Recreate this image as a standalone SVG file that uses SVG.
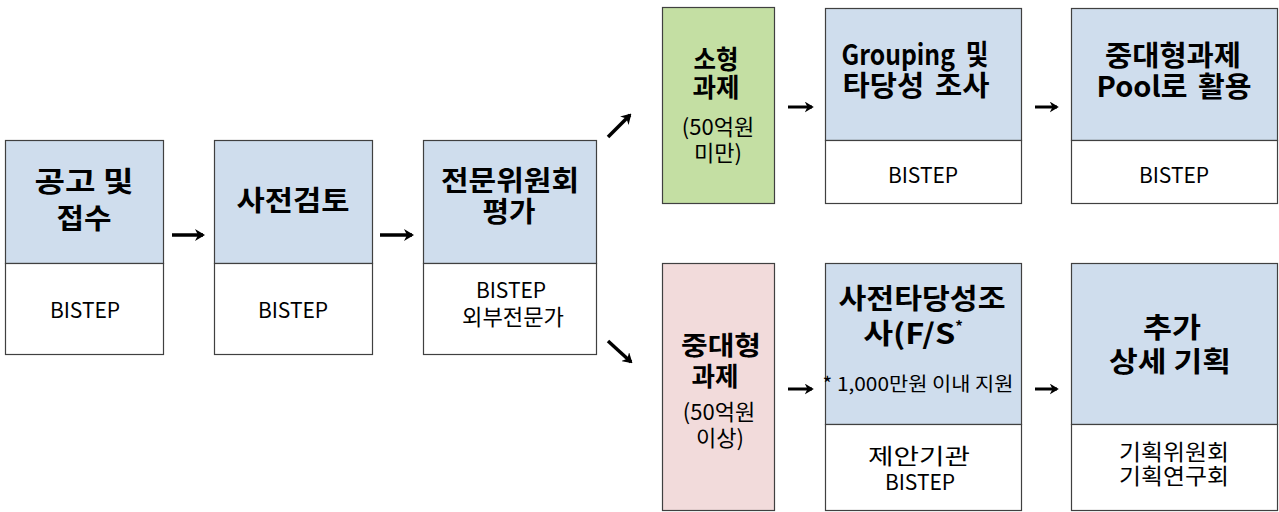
<svg xmlns="http://www.w3.org/2000/svg" width="1279" height="512" viewBox="0 0 1279 512">
<style>
.box{stroke:#404040;stroke-width:1.2}
.hd{fill:#cfdded}
.wt{fill:#ffffff}
.gr{fill:#c4dfa3}
.pk{fill:#f2dbdb}
text{font-family:"Noto Sans CJK KR","Noto Sans",sans-serif;fill:#000;text-anchor:middle}
.t{font-size:28px;font-weight:700}
.ts{font-size:26px;font-weight:700}
.s{font-size:21px;font-weight:400}
.k{font-size:22px;font-weight:400}
.m{font-size:22px;font-weight:400}
.n{font-size:19px;font-weight:400}
.c{stroke:#000;fill:none;stroke-linecap:butt}
</style>
<defs>
<marker id="ah" viewBox="0 0 10 12" refX="8" refY="6" markerWidth="10" markerHeight="12" markerUnits="userSpaceOnUse" orient="auto">
<path d="M0,0 L10,6 L0,12 L3,6 z" fill="#000"/>
</marker>
<marker id="ahs" viewBox="0 0 10 12" refX="8" refY="6" markerWidth="9" markerHeight="11" markerUnits="userSpaceOnUse" orient="auto">
<path d="M0,0 L10,6 L0,12 L3,6 z" fill="#000"/>
</marker>
</defs>

<g id="n1">
<rect class="box hd" x="5.5" y="140.5" width="158" height="123"/>
<rect class="box wt" x="5.5" y="263.5" width="158" height="91"/>
<text class="t"><tspan x="84" y="192" textLength="99" lengthAdjust="spacingAndGlyphs">공고 및</tspan><tspan x="84" y="229" textLength="55" lengthAdjust="spacingAndGlyphs">접수</tspan></text>
<text class="s" x="85" y="318">BISTEP</text>
</g>

<g id="n2">
<rect class="box hd" x="214.5" y="140.5" width="158" height="123"/>
<rect class="box wt" x="214.5" y="263.5" width="158" height="91"/>
<text class="t" x="293" y="211" textLength="113" lengthAdjust="spacingAndGlyphs">사전검토</text>
<text class="s" x="293" y="318">BISTEP</text>
</g>

<g id="n3">
<rect class="box hd" x="423.5" y="140.5" width="173" height="123"/>
<rect class="box wt" x="423.5" y="263.5" width="173" height="91"/>
<text class="t"><tspan x="510" y="191" textLength="138" lengthAdjust="spacingAndGlyphs">전문위원회</tspan><tspan x="509" y="222" textLength="53" lengthAdjust="spacingAndGlyphs">평가</tspan></text>
<text class="s"><tspan x="511" y="298">BISTEP</tspan><tspan class="k" x="513" y="325" textLength="102" lengthAdjust="spacingAndGlyphs">외부전문가</tspan></text>
</g>

<g id="n4">
<rect class="box gr" x="662.5" y="7.5" width="112" height="196"/>
<text class="ts"><tspan x="716" y="69" textLength="45" lengthAdjust="spacingAndGlyphs">소형</tspan><tspan x="716" y="97" textLength="47" lengthAdjust="spacingAndGlyphs">과제</tspan></text>
<text class="m"><tspan x="718" y="135">(50억원</tspan><tspan x="718" y="161">미만)</tspan></text>
</g>

<g id="n5">
<rect class="box hd" x="825.5" y="8.5" width="196" height="132"/>
<rect class="box wt" x="825.5" y="140.5" width="196" height="63"/>
<text class="t"><tspan x="915" y="65" textLength="147" lengthAdjust="spacingAndGlyphs" word-spacing="6">Grouping 및</tspan><tspan x="916" y="96" textLength="147" lengthAdjust="spacingAndGlyphs" word-spacing="4">타당성 조사</tspan></text>
<text class="s" x="923" y="183">BISTEP</text>
</g>

<g id="n6">
<rect class="box hd" x="1071.5" y="8.5" width="206" height="132"/>
<rect class="box wt" x="1071.5" y="140.5" width="206" height="63"/>
<text class="t"><tspan x="1173" y="66" textLength="136" lengthAdjust="spacingAndGlyphs">중대형과제</tspan><tspan x="1174" y="97" textLength="155" lengthAdjust="spacingAndGlyphs" word-spacing="4">Pool로 활용</tspan></text>
<text class="s" x="1174" y="183">BISTEP</text>
</g>

<g id="n7">
<rect class="box pk" x="662.5" y="263.5" width="112" height="247"/>
<text class="ts"><tspan x="721" y="355" textLength="80" lengthAdjust="spacingAndGlyphs">중대형</tspan><tspan x="715" y="386" textLength="47" lengthAdjust="spacingAndGlyphs">과제</tspan></text>
<text class="m"><tspan x="719" y="420">(50억원</tspan><tspan x="720" y="446">이상)</tspan></text>
</g>

<g id="n8">
<rect class="box hd" x="825.5" y="263.5" width="196" height="161"/>
<rect class="box wt" x="825.5" y="424.5" width="196" height="86"/>
<text class="t"><tspan x="922" y="309" textLength="167" lengthAdjust="spacingAndGlyphs">사전타당성조</tspan><tspan x="913" y="344" textLength="92" lengthAdjust="spacingAndGlyphs">사(F/S</tspan><tspan font-size="15" dy="-12">*</tspan></text>
<text class="n" x="918" y="391" textLength="191" lengthAdjust="spacingAndGlyphs">* 1,000만원 이내 지원</text>
<text class="s"><tspan class="k" x="919" y="464" textLength="102" lengthAdjust="spacingAndGlyphs">제안기관</tspan><tspan x="920" y="490">BISTEP</tspan></text>
</g>

<g id="n9">
<rect class="box hd" x="1071.5" y="263.5" width="206" height="161"/>
<rect class="box wt" x="1071.5" y="424.5" width="206" height="86"/>
<text class="t"><tspan x="1172" y="338" textLength="58" lengthAdjust="spacingAndGlyphs">추가</tspan><tspan x="1170" y="372" textLength="122" lengthAdjust="spacingAndGlyphs">상세 기획</tspan></text>
<text class="k"><tspan x="1174" y="460" textLength="110" lengthAdjust="spacingAndGlyphs">기획위원회</tspan><tspan x="1174" y="484" textLength="110" lengthAdjust="spacingAndGlyphs">기획연구회</tspan></text>
</g>

<g id="connectors">
<line class="c" x1="172" y1="235" x2="203" y2="235" stroke-width="3.5" marker-end="url(#ah)"/>
<line class="c" x1="380" y1="235" x2="412" y2="235" stroke-width="3.5" marker-end="url(#ah)"/>
<line class="c" x1="608" y1="137" x2="630" y2="115" stroke-width="3.5" marker-end="url(#ah)"/>
<line class="c" x1="608" y1="341" x2="631" y2="362" stroke-width="3.5" marker-end="url(#ah)"/>
<line class="c" x1="788" y1="107" x2="812" y2="107" stroke-width="3" marker-end="url(#ahs)"/>
<line class="c" x1="1035" y1="107" x2="1057" y2="107" stroke-width="3" marker-end="url(#ahs)"/>
<line class="c" x1="788" y1="389" x2="812" y2="389" stroke-width="3" marker-end="url(#ahs)"/>
<line class="c" x1="1035" y1="389" x2="1057" y2="389" stroke-width="3" marker-end="url(#ahs)"/>
</g>
</svg>
